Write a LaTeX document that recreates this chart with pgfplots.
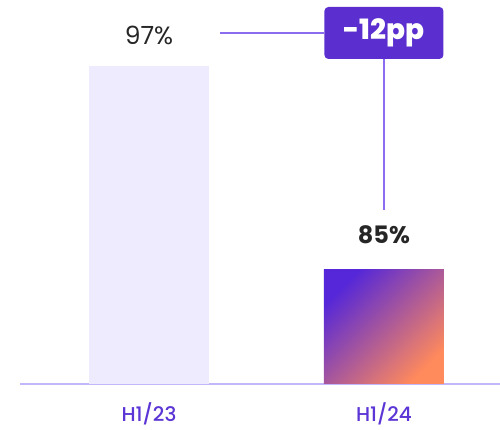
\documentclass[border=0pt]{standalone}
\usepackage{fontspec}
\setmainfont{Poppins}
\newfontfamily\popmed{Poppins Medium}
\newfontfamily\popbold{Poppins Bold}
\newfontfamily\popxb{Poppins ExtraBold}
\usepackage{pgfplots}
\pgfplotsset{compat=1.18}
\usetikzlibrary{calc}
\definecolor{barlight}{HTML}{EDEBFD}
\definecolor{gradtop}{HTML}{5527D8}
\definecolor{gradbot}{HTML}{FF8A5C}
\definecolor{basecol}{HTML}{C3B6FB}
\definecolor{boxcol}{HTML}{5B2ECF}
\definecolor{tickcol}{HTML}{5B35D5}
\definecolor{linkcol}{HTML}{8B6CF0}
\definecolor{txtcol}{HTML}{262626}
\begin{document}
\begin{tikzpicture}
\begin{axis}[
    name=ax,
    scale only axis,
    width=480pt, height=384pt,
    xmin=-0.549, xmax=1.494,
    ymin=78.29, ymax=100.88,
    axis x line*=bottom,
    axis y line=none,
    x axis line style={draw=basecol, line width=2pt},
    major tick length=0pt,
    xtick={0,1},
    xticklabels={H1/23, H1/24},
    xticklabel style={font=\popmed\fontsize{20}{23}\selectfont, text=tickcol, anchor=base, yshift=-38pt},
    ybar, bar width=120pt, bar shift=0pt,
    clip=false,
]
\addplot[draw=none, fill=barlight] coordinates {(0,97)};
\addplot[draw=none, top color=gradtop, bottom color=gradbot, shading angle=45] coordinates {(1,85)};

\node[font=\fontsize{25}{28}\selectfont, text=txtcol] at (axis cs:0,98.82) {97\%};
\node[font=\popbold\fontsize{24}{28}\selectfont, text=txtcol] at (axis cs:1,87.1) {85\%};
\node[name=box, fill=boxcol, rounded corners=4pt, minimum width=119pt, minimum height=52pt,
      font=\popxb\fontsize{28}{32}\selectfont, text=white, inner sep=0pt] at (axis cs:1,98.94) {-12pp};
\draw[linkcol, line width=1.5pt] (axis cs:0.302,98.94) -- (box.west);
\draw[linkcol, line width=1.5pt] (box.south) -- (axis cs:1,88.53);
\end{axis}
\pgfresetboundingbox
\path ($(ax.south west)+(-20pt,-46pt)$) rectangle (ax.north east);
\end{tikzpicture}
\end{document}
